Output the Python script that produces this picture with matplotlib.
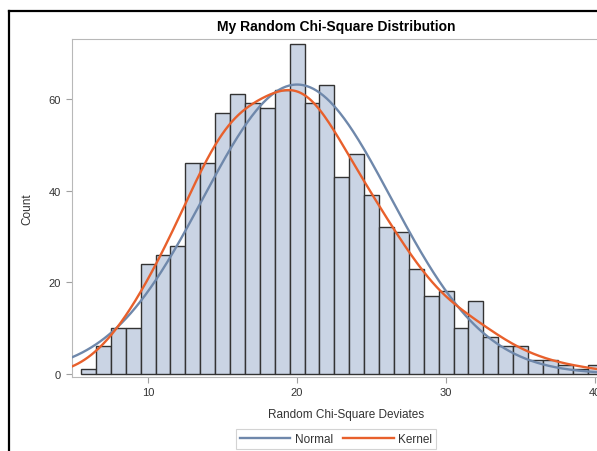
import matplotlib
matplotlib.use('Agg')
import matplotlib.pyplot as plt
from matplotlib.lines import Line2D
import numpy as np

plt.rcParams['font.family'] = ['Liberation Sans', 'DejaVu Sans']

# histogram data (bin centers, width 1)
bin_centers = np.arange(6, 41)
counts = [1, 6, 10, 10, 24, 26, 28, 46, 46, 57, 61, 59, 58, 62, 72, 59, 63,
          43, 48, 39, 32, 31, 23, 17, 18, 10, 16, 8, 6, 6, 3, 3, 2, 1, 2]
bin_width = 1.0

# fit parameters (normal peak at 20, height ~63)
n_obs = 1000
normal_mean = 20.0
normal_sd = 6.32
kernel_bw = 1.8

counts = np.array(counts, dtype=float)

xs = np.linspace(4.86, 41.7, 500)
normal_y = n_obs * bin_width * np.exp(-0.5 * ((xs - normal_mean) / normal_sd) ** 2) / (normal_sd * np.sqrt(2 * np.pi))
kernel_y = np.zeros_like(xs)
for c, xc in zip(counts, bin_centers):
    kernel_y += c * np.exp(-0.5 * ((xs - xc) / kernel_bw) ** 2) / (kernel_bw * np.sqrt(2 * np.pi))
kernel_y *= bin_width

W, H = 597, 452
fig = plt.figure(figsize=(W / 100, H / 100), dpi=100)
ax = fig.add_axes([71.5 / W, 1 - 377.7 / H, 548.5 / W, 337.7 / H])

ax.bar(bin_centers, counts, width=bin_width, color='#CAD4E4', edgecolor='#333333', linewidth=1.0, zorder=2)
ax.plot(xs, normal_y, color='#6F88AB', linewidth=1.7, label='Normal', zorder=3)
ax.plot(xs, kernel_y, color='#E8602C', linewidth=1.7, label='Kernel', zorder=4)

ax.set_xlim(4.86, 41.67)
ax.set_ylim(-0.6, 73.06)
ax.set_xticks([10, 20, 30, 40])
ax.set_yticks([0, 20, 40, 60])
ax.tick_params(direction='out', length=4, color='#A0A0A0', labelsize=8, labelcolor='#333333')
for s in ax.spines.values():
    s.set_color('#B8B8B8')
ax.spines['right'].set_visible(False)

ax.set_xlabel('Random Chi-Square Deviates', fontsize=8.5, color='#333333', labelpad=8)
fig.text(27 / W, 1 - 209 / H, 'Count', rotation=90, ha='center', va='center', fontsize=8.5, color='#333333')
fig.text(336 / W, 1 - 27 / H, 'My Random Chi-Square Distribution', ha='center', va='center',
         fontsize=10, fontweight='bold')

leg = fig.legend(loc='center', bbox_to_anchor=(336 / W, 1 - 440 / H), ncol=2, fontsize=8.5,
                 frameon=True, fancybox=False, handlelength=4.3, columnspacing=0.8,
                 handletextpad=0.4, borderpad=0.35)
leg.get_frame().set_edgecolor('#C8C8C8')
leg.get_frame().set_linewidth(0.8)
for t in leg.get_texts():
    t.set_color('#333333')

# outer frame
fy = 1 - 12 / H
fx = 9 / W
fig.add_artist(Line2D([fx, fx], [0, fy], color='black', linewidth=1.6, transform=fig.transFigure))
fig.add_artist(Line2D([fx, 1], [fy, fy], color='black', linewidth=1.6, transform=fig.transFigure))

fig.savefig('out.png', dpi=100)
